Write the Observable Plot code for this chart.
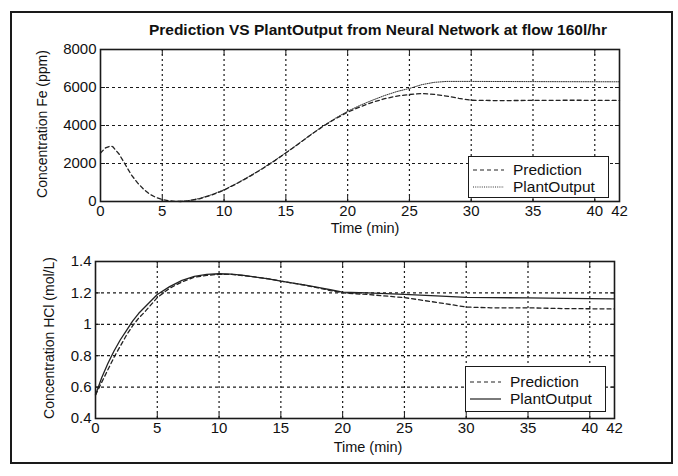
<!DOCTYPE html>
<html>
<head>
<meta charset="utf-8">
<script src="https://cdn.jsdelivr.net/npm/d3@7"></script>
<script src="https://cdn.jsdelivr.net/npm/@observablehq/plot@0.6"></script>
<style>
  body { margin: 0; background: #fff; }
  #wrap { position: relative; width: 678px; height: 476px; overflow: hidden; background: #fff;
          font-family: "Liberation Sans", Arial, sans-serif; color: #111; }
  #border { position: absolute; left: 10px; top: 11px; width: 663px; height: 453px;
            border: 2px solid #1a1a1a; box-sizing: border-box; }
  .chart { position: absolute; left: 0; }
  .title { position: absolute; left: 128px; width: 500px; top: 21px; text-align: center;
           font-weight: bold; font-size: 15.5px; white-space: nowrap; }
  .xlabel { position: absolute; width: 200px; text-align: center; font-size: 14.5px; }
  .ylabel { position: absolute; width: 220px; text-align: center; font-size: 14px;
            transform: rotate(-90deg); transform-origin: center center; white-space: nowrap; }
  .legend { position: absolute; border: 1.3px solid #1a1a1a; background: #fff; box-sizing: border-box; }
  .legend .row { position: absolute; left: 0; height: 16px; width: 100%; }
  .legend svg { position: absolute; left: 3px; top: 0; }
  .legend span { position: absolute; left: 44px; top: -1px; font-size: 15.5px; line-height: 17px; }
</style>
</head>
<body>
<div id="wrap">
  <div id="border"></div>
  <div class="title">Prediction VS PlantOutput from Neural Network at flow 160l/hr</div>
  <div id="top" class="chart" style="top:0px"></div>
  <div id="bottom" class="chart" style="top:230px"></div>
  <div class="ylabel" style="left:-68px; top:116px;">Concentration Fe (ppm)</div>
  <div class="ylabel" style="left:-61px; top:330px;">Concentration HCl (mol/L)</div>
  <div class="xlabel" style="left:265px; top:220px;">Time (min)</div>
  <div class="xlabel" style="left:268px; top:439px;">Time (min)</div>
  <div class="legend" style="left:468px; top:156px; width:141px; height:42px;">
    <div class="row" style="top:5px"><svg width="34" height="16"><line x1="1" x2="32" y1="8" y2="8" stroke="#222" stroke-width="1.2" stroke-dasharray="4,3"/></svg><span>Prediction</span></div>
    <div class="row" style="top:22px"><svg width="34" height="16"><line x1="1" x2="32" y1="8" y2="8" stroke="#333" stroke-width="1" stroke-dasharray="1,1.2"/></svg><span>PlantOutput</span></div>
  </div>
  <div class="legend" style="left:465px; top:366px; width:141px; height:46px;">
    <div class="row" style="top:7px"><svg width="34" height="16"><line x1="1" x2="32" y1="8" y2="8" stroke="#222" stroke-width="1.2" stroke-dasharray="4,3"/></svg><span>Prediction</span></div>
    <div class="row" style="top:24px"><svg width="34" height="16"><line x1="1" x2="32" y1="8" y2="8" stroke="#222" stroke-width="1.2"/></svg><span>PlantOutput</span></div>
  </div>
</div>
<script>
// ---- Data ----
const xTicks = [0, 5, 10, 15, 20, 25, 30, 35, 40, 42];
const xGrid = [5, 10, 15, 20, 25, 30, 35, 40];
const feTicks = [0, 2000, 4000, 6000, 8000];
const feGrid = [2000, 4000, 6000];
const hclTicks = [0.4, 0.6, 0.8, 1, 1.2, 1.4];
const hclGrid = [0.6, 0.8, 1, 1.2];

// Fe concentration (ppm) – Prediction
const fePredTime = [0, 0.4, 0.8, 1.0, 1.5, 2.0, 2.5, 3.0, 3.5, 4.0, 4.5, 5.0, 5.5, 6.0, 6.5, 7, 8, 9, 10, 11, 12, 13, 14, 15, 16, 17, 18, 19, 20, 21, 22, 23, 24, 25, 26, 27, 28, 29, 30, 32, 35, 38, 42];
const fePred     = [2550, 2820, 2920, 2880, 2500, 1950, 1400, 980, 640, 380, 210, 100, 40, 10, 0, 20, 140, 340, 600, 930, 1290, 1680, 2100, 2550, 3020, 3500, 3950, 4350, 4700, 4980, 5220, 5410, 5550, 5630, 5680, 5640, 5550, 5430, 5330, 5310, 5320, 5330, 5320];
// Fe concentration (ppm) – Plant output
const fePlantTime = [0, 6, 7, 8, 9, 10, 11, 12, 13, 14, 15, 16, 17, 18, 19, 20, 21, 22, 23, 24, 25, 26, 27, 28, 30, 35, 42];
const fePlant     = [0, 0, 30, 160, 360, 620, 950, 1310, 1700, 2120, 2570, 3030, 3510, 3970, 4380, 4750, 5060, 5330, 5580, 5790, 5950, 6150, 6270, 6320, 6320, 6310, 6300];

// HCl concentration (mol/L)
const hclTime  = [0, 0.5, 1, 1.5, 2, 2.5, 3, 3.5, 4, 5, 6, 7, 8, 9, 10, 11, 12, 13, 14, 15, 16, 17, 18, 19, 20, 22, 25, 28, 30, 32, 35, 38, 42];
const hclPred  = [0.55, 0.63, 0.71, 0.79, 0.86, 0.93, 0.99, 1.04, 1.08, 1.17, 1.23, 1.27, 1.30, 1.312, 1.318, 1.318, 1.31, 1.30, 1.29, 1.275, 1.262, 1.248, 1.232, 1.215, 1.2, 1.19, 1.17, 1.135, 1.11, 1.105, 1.105, 1.1, 1.098];
const hclPlant = [0.55, 0.66, 0.75, 0.83, 0.90, 0.96, 1.02, 1.07, 1.11, 1.19, 1.24, 1.28, 1.305, 1.318, 1.322, 1.32, 1.312, 1.30, 1.29, 1.275, 1.262, 1.25, 1.235, 1.22, 1.205, 1.2, 1.19, 1.18, 1.172, 1.17, 1.168, 1.165, 1.162];

const toRows = (ts, vs) => ts.map((t, i) => ({t, v: vs[i]}));

const baseStyle = {fontFamily: "'Liberation Sans', Arial, sans-serif", fontSize: "15px", color: "#111", background: "transparent", overflow: "visible"};
const ink = "#1a1a1a";

function panel({width, height, mL, mR, mT, mB, yDomain, yTicks, yGrid, series}) {
  return Plot.plot({
    width, height,
    marginLeft: mL, marginRight: mR, marginTop: mT, marginBottom: mB,
    style: baseStyle,
    x: {domain: [0, 42], label: null},
    y: {domain: yDomain, label: null},
    marks: [
      Plot.ruleX(xGrid, {stroke: ink, strokeWidth: 1.2, strokeDasharray: "2,3"}),
      Plot.ruleY(yGrid, {stroke: ink, strokeWidth: 1.2, strokeDasharray: "3,3"}),
      ...series.map(s => Plot.line(s.data, {x: "t", y: "v", stroke: s.stroke, strokeWidth: s.width, strokeDasharray: s.dash})),
      Plot.frame({stroke: ink, strokeWidth: 1.6}),
      Plot.axisX(xTicks, {anchor: "bottom", tickSize: 0, tickPadding: 4, label: null, tickFormat: d => String(d)}),
      Plot.axisX(xTicks, {anchor: "bottom", tickSize: -5, label: null, tickFormat: () => "", stroke: ink}),
      Plot.axisX(xTicks, {anchor: "top", tickSize: -5, label: null, tickFormat: () => "", stroke: ink}),
      Plot.axisY(yTicks, {anchor: "left", tickSize: 0, tickPadding: 4, label: null, tickFormat: d => String(d)}),
      Plot.axisY(yTicks, {anchor: "left", tickSize: -5, label: null, tickFormat: () => "", stroke: ink}),
      Plot.axisY(yTicks, {anchor: "right", tickSize: -5, label: null, tickFormat: () => "", stroke: ink})
    ]
  });
}

const topChart = panel({
  width: 678, height: 230, mL: 100, mR: 59, mT: 49, mB: 29,
  yDomain: [0, 8000], yTicks: feTicks, yGrid: feGrid,
  series: [
    {data: toRows(fePlantTime, fePlant), stroke: "#333", width: 1, dash: "1,1.2"},
    {data: toRows(fePredTime, fePred), stroke: "#222", width: 1.3, dash: "4,3"}
  ]
});
document.getElementById("top").appendChild(topChart);

const bottomChart = panel({
  width: 678, height: 246, mL: 95, mR: 64, mT: 31, mB: 58,
  yDomain: [0.4, 1.4], yTicks: hclTicks, yGrid: hclGrid,
  series: [
    {data: toRows(hclTime, hclPlant), stroke: "#222", width: 1.3, dash: null},
    {data: toRows(hclTime, hclPred), stroke: "#222", width: 1.3, dash: "4,3"}
  ]
});
document.getElementById("bottom").appendChild(bottomChart);
</script>
</body>
</html>
